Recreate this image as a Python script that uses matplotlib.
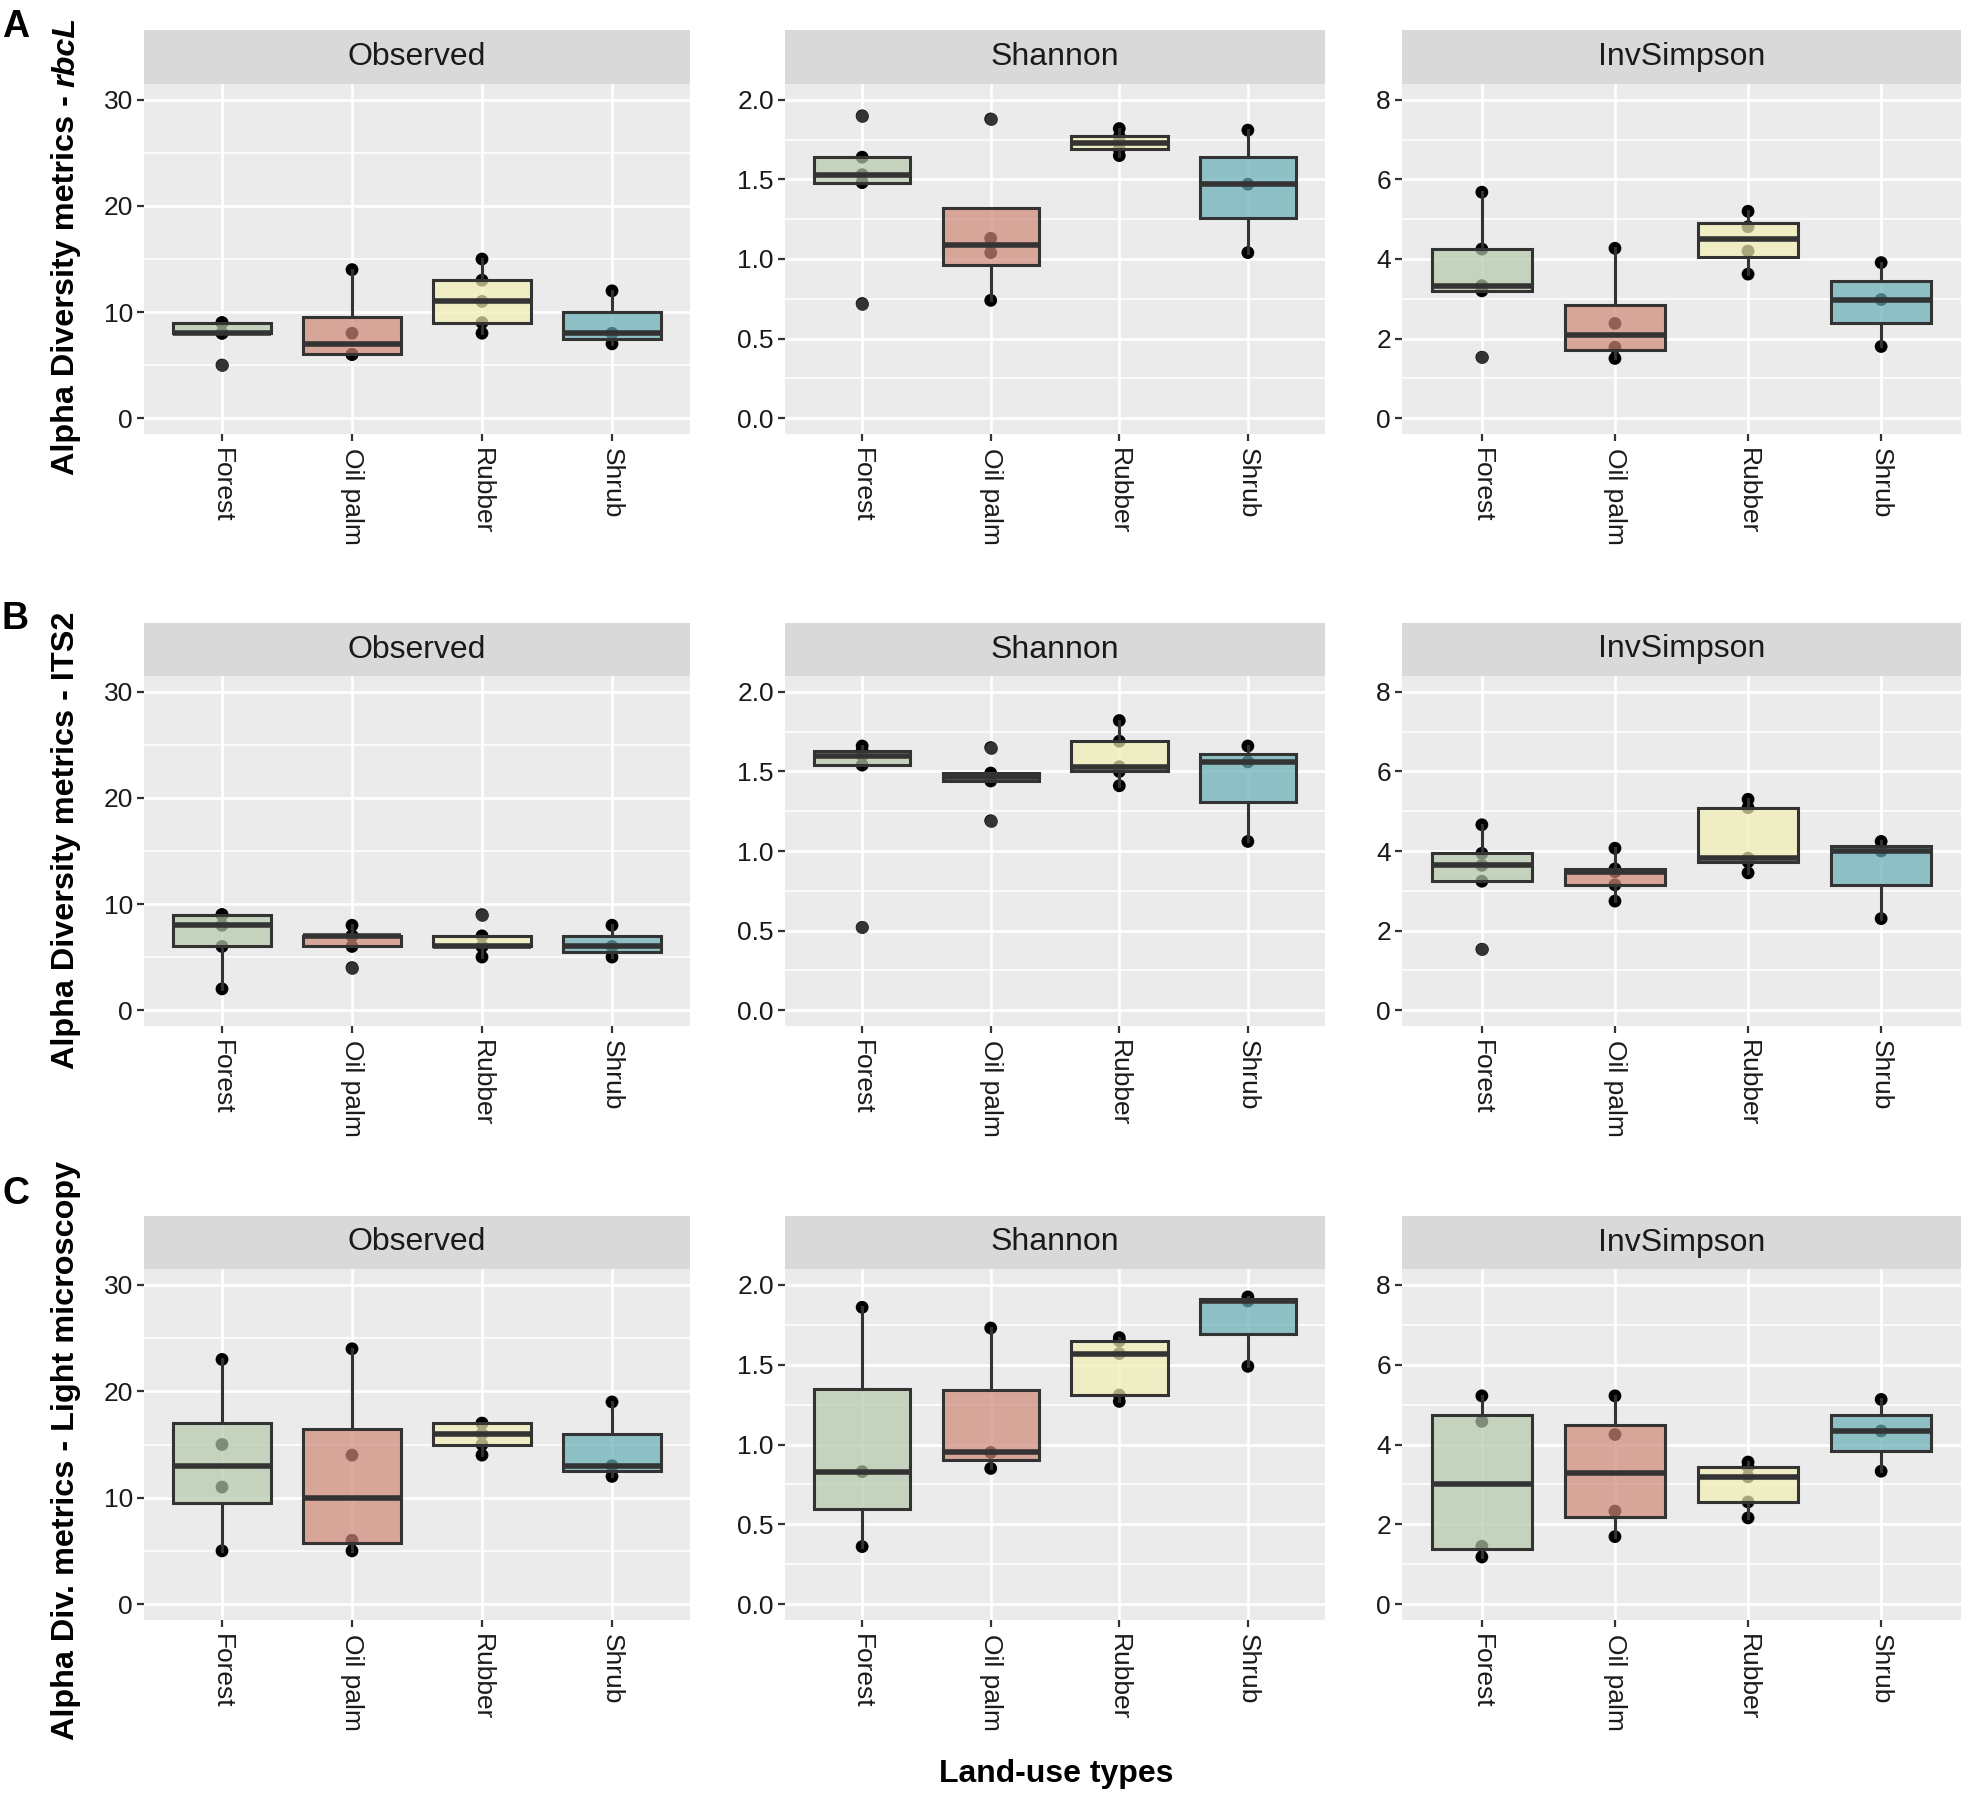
import matplotlib
matplotlib.use("Agg")
import matplotlib.pyplot as plt
from matplotlib.colors import to_rgba

plt.rcParams['font.family'] = ['Liberation Sans', 'DejaVu Sans']

# ---------------- data ----------------
categories = ["Forest", "Oil palm", "Rubber", "Shrub"]
metrics = ["Observed", "Shannon", "InvSimpson"]

# Row A: rbcL
A_observed = [[5, 8, 8, 9, 9], [6, 6, 8, 14], [8, 9, 11, 13, 15], [7, 8, 12]]
A_shannon = [[0.72, 1.48, 1.53, 1.64, 1.90], [0.74, 1.04, 1.13, 1.88],
             [1.65, 1.69, 1.73, 1.77, 1.82], [1.04, 1.47, 1.81]]
A_invsimpson = [[1.53, 3.20, 3.33, 4.25, 5.68], [1.50, 1.78, 2.38, 4.27],
                [3.62, 4.20, 4.81, 5.20], [1.80, 2.98, 3.91]]
# Row B: ITS2
B_observed = [[2, 6, 8, 9, 9], [4, 6, 7, 7, 8], [5, 6, 6, 7, 9], [5, 6, 8]]
B_shannon = [[0.52, 1.54, 1.60, 1.63, 1.66], [1.19, 1.44, 1.465, 1.49, 1.65],
             [1.41, 1.50, 1.53, 1.69, 1.82], [1.06, 1.56, 1.66]]
B_invsimpson = [[1.53, 3.24, 3.64, 3.94, 4.66], [2.74, 3.15, 3.48, 3.55, 4.07],
                [3.45, 3.73, 3.82, 5.09, 5.30], [2.30, 4.00, 4.24]]
# Row C: light microscopy
C_observed = [[5, 11, 15, 23], [5, 6, 14, 24], [14, 15, 16, 17, 17], [12, 13, 19]]
C_shannon = [[0.36, 0.83, 1.86], [0.85, 0.95, 1.73],
             [1.27, 1.31, 1.57, 1.65, 1.67], [1.49, 1.90, 1.925]]
C_invsimpson = [[1.18, 1.45, 4.58, 5.22], [1.69, 2.33, 4.25, 5.22],
                [2.16, 2.56, 3.19, 3.44, 3.56], [3.33, 4.34, 5.13]]

row_letters = ["A", "B", "C"]
row_titles = [[("Alpha Diversity metrics - ", "normal"), ("rbcL", "italic")],
              [("Alpha Diversity metrics - ITS2", "normal")],
              [("Alpha Div. metrics - Light microscopy", "normal")]]
x_title = "Land-use types"

y_ticks = {"Observed": [0, 10, 20, 30],
           "Shannon": [0.0, 0.5, 1.0, 1.5, 2.0],
           "InvSimpson": [0, 2, 4, 6, 8]}
y_ticklabels = {"Observed": ["0", "10", "20", "30"],
                "Shannon": ["0.0", "0.5", "1.0", "1.5", "2.0"],
                "InvSimpson": ["0", "2", "4", "6", "8"]}

# ---------------- style ----------------
fill_colors = ["#B5C9AB", "#D08877", "#F2EEB2", "#66AEB6"]
fill_alpha = 0.7
edge = "#333333"

W, H = 1961, 1797
fig = plt.figure(figsize=(W / 100, H / 100), dpi=100)


def rect(l, t, r, b):
    return [l / W, 1 - b / H, (r - l) / W, (b - t) / H]


col_lr = [(144, 690), (785, 1325), (1402, 1961)]
row_tb = [(30, 84, 434), (623, 676, 1026), (1216, 1269, 1620)]
row_label_center = [246, 840, 1450]
letter_top = [9, 601, 1176]

data_rows = [[A_observed, A_shannon, A_invsimpson],
             [B_observed, B_shannon, B_invsimpson],
             [C_observed, C_shannon, C_invsimpson]]

positions = [1, 2, 3, 4]

for ri, (st, sb, pb) in enumerate(row_tb):
    for ci, (l, r) in enumerate(col_lr):
        metric = metrics[ci]
        data = data_rows[ri][ci]
        # strip
        sax = fig.add_axes(rect(l, st, r, sb))
        sax.set_facecolor("#D9D9D9")
        sax.set_xticks([]); sax.set_yticks([])
        for s in sax.spines.values():
            s.set_visible(False)
        sax.text(0.5, 0.5, metric, ha="center", va="center", fontsize=23,
                 color="#1A1A1A", transform=sax.transAxes)
        # panel
        ax = fig.add_axes(rect(l, sb, r, pb))
        ax.set_facecolor("#EBEBEB")
        for s in ax.spines.values():
            s.set_visible(False)
        ax.set_axisbelow(True)
        ticks = y_ticks[metric]
        step = ticks[1] - ticks[0]
        lo, hi = ticks[0], ticks[-1]
        pad = 0.05 * (hi - lo)
        ax.set_ylim(lo - pad, hi + pad)
        ax.set_xlim(0.4, 4.6)
        ax.set_yticks(ticks)
        ax.set_yticklabels(y_ticklabels[metric])
        ax.set_yticks([t + step / 2 for t in ticks[:-1]], minor=True)
        ax.grid(True, which="major", axis="both", color="white", linewidth=1.9)
        ax.grid(True, which="minor", axis="y", color="white", linewidth=1.1)
        ax.tick_params(axis="both", which="major", length=5, width=1.6,
                       color=edge, labelsize=19, labelcolor="#1A1A1A", pad=3)
        ax.tick_params(axis="y", which="minor", length=0)
        # points
        for i, vals in enumerate(data):
            ax.scatter([positions[i]] * len(vals), vals, s=85, color="black",
                       edgecolors="none", zorder=2.5)
        bp = ax.boxplot(data, positions=positions, widths=0.75, patch_artist=True,
                        showcaps=False, whis=1.5, zorder=3,
                        boxprops=dict(edgecolor=edge, linewidth=2.2),
                        medianprops=dict(color=edge, linewidth=4.0, solid_capstyle="butt"),
                        whiskerprops=dict(color=edge, linewidth=2.2),
                        flierprops=dict(marker="o", markerfacecolor=edge,
                                        markeredgecolor="none", markersize=9.2))
        for patch, c in zip(bp["boxes"], fill_colors):
            patch.set_facecolor(to_rgba(c, fill_alpha))
        ax.set_xticks(positions)
        ax.set_xticklabels(categories, rotation=270, ha="center", va="top")
        ax.tick_params(axis="x", pad=5)

    # panel letter
    fig.text(2 / W, 1 - letter_top[ri] / H, row_letters[ri], ha="left", va="top",
             fontsize=27, fontweight="bold", color="black")

# y-axis titles (rotated, possibly mixed italic)
fig.canvas.draw()
renderer = fig.canvas.get_renderer()
title_size = 23.3
x_base = 74
for ri, parts in enumerate(row_titles):
    texts = []
    widths = []
    for s, style in parts:
        t = fig.text(0, 0, s.rstrip(), rotation=90, rotation_mode="anchor",
                     ha="left", va="baseline", fontsize=title_size,
                     fontweight="bold", fontstyle=style, color="black",
                     transform=None)
        texts.append(t)
        w = t.get_window_extent(renderer).height
        if s.endswith(" "):
            w += 0.278 * title_size * 100 / 72
        widths.append(w)
    total = sum(widths)
    y0 = (H - row_label_center[ri]) - total / 2
    for t, w in zip(texts, widths):
        t.set_position((x_base, y0))
        y0 += w

fig.text(1056 / W, 1 - 1782 / H, x_title, ha="center", va="baseline",
         fontsize=23, fontweight="bold", color="black")

fig.savefig("out.png", dpi=100)
